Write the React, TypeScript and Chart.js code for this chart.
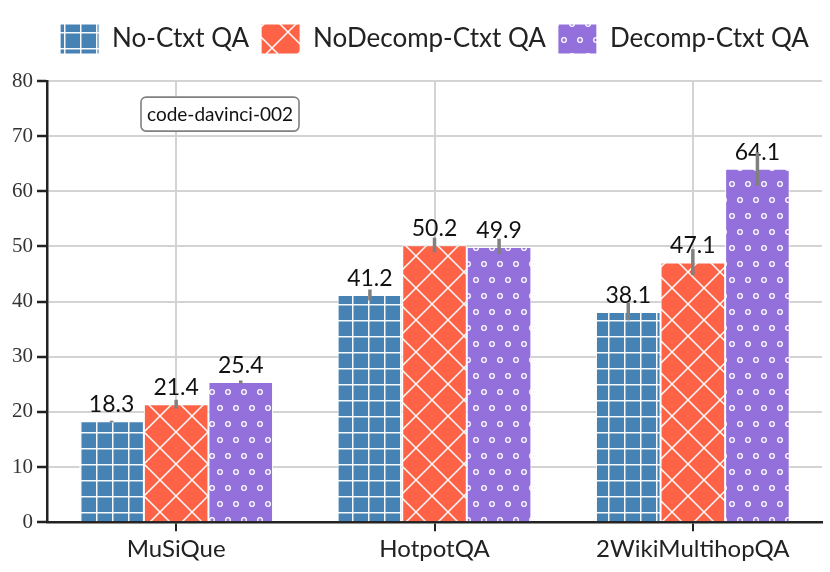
import React, { useEffect, useRef } from 'react';
import { Chart, registerables } from 'chart.js';

Chart.register(...registerables);

const categories = ['MuSiQue', 'HotpotQA', '2WikiMultihopQA'];
const seriesNames = ['No-Ctxt QA', 'NoDecomp-Ctxt QA', 'Decomp-Ctxt QA'];

const noCtxt = [18.3, 41.2, 38.1];
const noDecomp = [21.4, 50.2, 47.1];
const decomp = [25.4, 49.9, 64.1];

// error bar ends (low / high)
const noCtxtLow = [18.1, 40.2, 36.6];
const noCtxtHigh = [18.4, 42.2, 39.8];
const noDecompLow = [20.6, 48.9, 44.8];
const noDecompHigh = [22.2, 51.6, 49.5];
const decompLow = [25.1, 48.6, 61.0];
const decompHigh = [25.7, 51.4, 67.1];

const yTicks = [0, 10, 20, 30, 40, 50, 60, 70, 80];
const boxLabel = 'code-davinci-002';

const SANS = 'Lato, "DejaVu Sans", sans-serif';
const SERIF = '"Liberation Serif", "DejaVu Serif", serif';

function makePattern(kind: 'grid' | 'cross' | 'dots'): CanvasPattern | string {
  const c = document.createElement('canvas');
  const ctx = c.getContext('2d');
  if (!ctx) return '#888';
  if (kind === 'grid') {
    c.width = 16;
    c.height = 16;
    ctx.fillStyle = '#4682B4';
    ctx.fillRect(0, 0, 16, 16);
    ctx.fillStyle = 'rgba(255,255,255,0.95)';
    ctx.fillRect(0, 0, 1.5, 16);
    ctx.fillRect(0, 0, 16, 1.5);
  } else if (kind === 'cross') {
    c.width = 32;
    c.height = 32;
    ctx.fillStyle = '#FF6347';
    ctx.fillRect(0, 0, 32, 32);
    ctx.strokeStyle = '#fff';
    ctx.lineWidth = 1.5;
    ctx.beginPath();
    ctx.moveTo(-2, -2);
    ctx.lineTo(34, 34);
    ctx.moveTo(34, -2);
    ctx.lineTo(-2, 34);
    ctx.stroke();
  } else {
    c.width = 16;
    c.height = 32;
    ctx.fillStyle = '#9370DB';
    ctx.fillRect(0, 0, 16, 32);
    ctx.strokeStyle = '#fff';
    ctx.lineWidth = 1.3;
    for (const [x, y] of [[4, 8], [12, 24]]) {
      ctx.beginPath();
      ctx.arc(x, y, 2.3, 0, Math.PI * 2);
      ctx.stroke();
    }
  }
  return ctx.createPattern(c, 'repeat') || '#888';
}

const lows = [noCtxtLow, noDecompLow, decompLow];
const highs = [noCtxtHigh, noDecompHigh, decompHigh];

// push the plot down below the legend
const legendGap = {
  id: 'legendGap',
  beforeInit(chart: any) {
    const fit = chart.legend.fit;
    chart.legend.fit = function () {
      fit.call(this);
      this.height += 17;
    };
  },
};

const overlayPlugin = {
  id: 'overlay',
  afterDatasetsDraw(chart: any) {
    const { ctx, chartArea, scales } = chart;
    const y = scales.y;
    ctx.save();
    // value labels
    ctx.font = `23px ${SANS}`;
    ctx.fillStyle = '#111';
    ctx.textAlign = 'center';
    ctx.textBaseline = 'alphabetic';
    chart.data.datasets.forEach((ds: any, di: number) => {
      const meta = chart.getDatasetMeta(di);
      meta.data.forEach((bar: any, i: number) => {
        ctx.fillText(ds.data[i].toFixed(1), bar.x, bar.y - 9);
      });
    });
    // error bars
    ctx.strokeStyle = '#808080';
    ctx.lineWidth = 3.5;
    chart.data.datasets.forEach((ds: any, di: number) => {
      const meta = chart.getDatasetMeta(di);
      meta.data.forEach((bar: any, i: number) => {
        ctx.beginPath();
        ctx.moveTo(bar.x, y.getPixelForValue(lows[di][i]));
        ctx.lineTo(bar.x, y.getPixelForValue(highs[di][i]));
        ctx.stroke();
      });
    });
    // model name box
    ctx.font = `19px ${SANS}`;
    const w = ctx.measureText(boxLabel).width + 12;
    const h = 34;
    const bx = chartArea.left + 94;
    const by = y.getPixelForValue(74) - h / 2;
    ctx.beginPath();
    ctx.roundRect(bx, by, w, h, 5);
    ctx.fillStyle = '#fff';
    ctx.fill();
    ctx.strokeStyle = '#808080';
    ctx.lineWidth = 1.6;
    ctx.stroke();
    ctx.fillStyle = '#111';
    ctx.textAlign = 'left';
    ctx.textBaseline = 'middle';
    ctx.fillText(boxLabel, bx + 6, by + h / 2 + 1);
    ctx.restore();
  },
};

export default function App() {
  const canvasRef = useRef<HTMLCanvasElement>(null);

  useEffect(() => {
    if (!canvasRef.current) return;
    const fills = [makePattern('grid'), makePattern('cross'), makePattern('dots')];
    const values = [noCtxt, noDecomp, decomp];

    const chart = new Chart(canvasRef.current, {
      type: 'bar',
      data: {
        labels: categories,
        datasets: seriesNames.map((name, i) => ({
          label: name,
          data: values[i],
          backgroundColor: fills[i] as any,
          borderColor: '#fff',
          borderWidth: 1,
          borderSkipped: 'bottom',
          categoryPercentage: 0.75,
          barPercentage: 1,
        })),
      },
      options: {
        animation: false,
        responsive: true,
        maintainAspectRatio: false,
        layout: { padding: { top: 12, right: 8, left: 0, bottom: 4 } },
        plugins: {
          tooltip: { enabled: false },
          legend: {
            position: 'top',
            fullSize: false,
            labels: {
              boxWidth: 39,
              boxHeight: 30,
              padding: 12,
              color: '#222',
              font: { family: SANS, size: 26 },
            },
          },
        },
        scales: {
          x: {
            offset: true,
            grid: {
              offset: false,
              color: '#d3d3d3',
              lineWidth: 2,
              tickColor: '#222',
              tickLength: 9,
              tickWidth: 2,
            },
            border: { color: '#222', width: 2.5 },
            ticks: { color: '#222', padding: 4, font: { family: SANS, size: 24 } },
          },
          y: {
            min: 0,
            max: 80,
            afterFit: (scale: any) => {
              scale.width = 47;
            },
            afterBuildTicks: (scale: any) => {
              scale.ticks = yTicks.map((v) => ({ value: v }));
            },
            grid: {
              color: '#d3d3d3',
              lineWidth: 2,
              tickColor: '#222',
              tickLength: 10,
              tickWidth: 2.5,
            },
            border: { color: '#222', width: 2.5 },
            ticks: { color: '#333', padding: 4, font: { family: SERIF, size: 21 } },
          },
        },
      },
      plugins: [legendGap, overlayPlugin],
    });

    return () => chart.destroy();
  }, []);

  return (
    <div style={{ position: 'fixed', left: 0, top: 0, width: 830, height: 572, background: '#fff' }}>
      <canvas ref={canvasRef} />
    </div>
  );
}
